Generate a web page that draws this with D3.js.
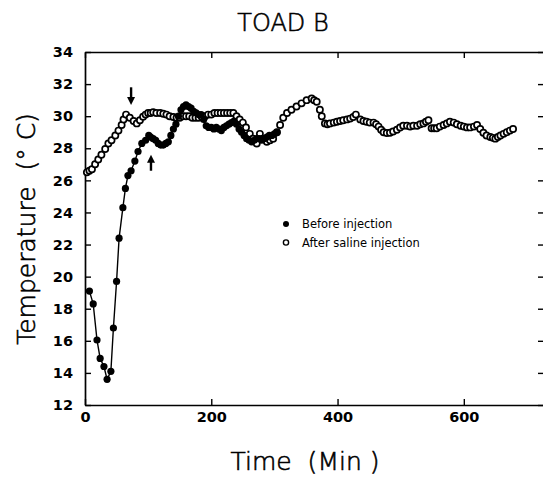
<!DOCTYPE html>
<html>
<head>
<meta charset="utf-8">
<script src="https://cdn.jsdelivr.net/npm/d3@7"></script>
<style>
  body { margin: 0; background: #fff; }
  svg text { fill: #000; }
  .axis path, .axis line { stroke: #000; }
  .axis text { font-family: "DejaVu Sans", sans-serif; font-size: 14.5px; font-weight: bold; fill: #000; }
  .label { font-family: "DejaVu Sans", sans-serif; font-weight: 200; stroke: #000; stroke-width: 0.6px; white-space: pre; }
</style>
</head>
<body>
<svg id="chart" width="543" height="478"></svg>
<script>
/* data: Time (min) / Temperature (C) */
var beforeTime = [7,13,19,24,30,35,41,45,50,54,60,64,68,73,79,84,90,96,101,
  104,108,112,116,120,124,128,132,136,140,144,148,152,156,160,164,168,172,176,180,184,188,
  192,196,200,204,208,212,216,220,224,228,232,236,240,244,248,252,256,260,264,268,272,276,
  280,284,288,292,296,300,304];
var beforeTemp = [19.1,18.3,16.05,14.9,14.4,13.6,14.1,16.8,19.7,22.4,24.3,25.5,26.3,26.6,27.2,27.8,28.3,28.5,28.8,
  28.7,28.6,28.5,28.3,28.2,28.2,28.3,28.4,28.8,29.2,29.5,30.0,30.4,30.6,30.7,30.6,30.5,30.3,30.2,30.1,30.1,29.8,
  29.4,29.3,29.3,29.2,29.3,29.2,29.1,29.3,29.4,29.5,29.6,29.7,29.5,29.2,29.0,28.8,28.6,28.5,28.4,28.5,28.6,28.6,
  28.5,28.6,28.7,28.8,28.8,28.9,29.0];

var afterTime = [3,7,11,16,21,26,32,37,42,48,53,58,61,65,71,77,82,87,92,96,100,104,108,113,119,124,129,134,
  140,145,150,155,160,165,170,175,180,185,190,195,200,205,210,215,220,225,230,235,240,245,250,255,261,266,
  272,277,282,288,293,298,304,309,314,320,327,335,343,351,359,363,367,372,375,380,384,388,394,399,404,409,
  415,420,425,429,436,441,446,451,457,461,465,469,473,478,483,488,494,499,504,510,515,520,526,531,536,540,
  544,549,553,557,562,568,573,578,584,589,595,600,605,610,616,621,626,631,636,642,646,650,654,658,663,668,
  673,678];
var afterTemp = [26.5,26.6,26.7,27.0,27.3,27.6,27.95,28.3,28.5,28.8,29.1,29.45,29.8,30.1,29.9,29.7,29.55,29.75,
  29.97,30.1,30.2,30.2,30.25,30.2,30.2,30.15,30.1,30.0,29.95,29.9,29.9,30.0,30.0,30.0,29.9,29.9,29.9,29.95,
  30.0,30.1,30.1,30.2,30.2,30.2,30.2,30.2,30.2,30.2,30.0,29.8,29.6,29.3,28.9,28.6,28.3,28.9,28.6,28.4,28.5,
  28.6,29.0,29.45,29.9,30.2,30.4,30.6,30.8,31.0,31.1,31.0,30.9,30.4,30.0,29.55,29.5,29.55,29.6,29.65,29.7,
  29.75,29.8,29.85,29.95,30.1,29.8,29.7,29.65,29.6,29.6,29.5,29.35,29.15,29.0,28.95,28.97,29.05,29.15,29.3,
  29.4,29.4,29.35,29.4,29.4,29.5,29.55,29.65,29.75,29.25,29.25,29.25,29.35,29.45,29.55,29.65,29.6,29.5,29.4,
  29.35,29.3,29.3,29.35,29.45,29.2,28.97,28.8,28.7,28.65,28.6,28.7,28.8,28.9,29.0,29.1,29.2];

var xTicks = [0, 200, 400, 600];
var yTicks = [12,14,16,18,20,22,24,26,28,30,32,34];
var seriesNames = ["Before injection", "After saline injection"];
var titleText = "TOAD B";
var xLabel = "Time  (Min )";
var yLabel = "Temperature  (\u00B0 C)";
// arrows: [time, temp tail, temp head]
var arrows = [[73, 31.8, 30.7], [104.5, 26.6, 27.6]];

var svg = d3.select("#chart");
var plotLeft = 85, plotRight = 544, plotTop = 52, plotBottom = 405;

var x = d3.scaleLinear().domain([0, 727]).range([plotLeft, plotRight]);
var y = d3.scaleLinear().domain([12, 34]).range([plotBottom, plotTop]);

var before = beforeTime.map(function(t, i) { return [t, beforeTemp[i]]; });
var after = afterTime.map(function(t, i) { return [t, afterTemp[i]]; });

/* axes, ticks pointing inward */
svg.append("g").attr("class", "axis")
  .attr("transform", "translate(0," + plotBottom + ")")
  .call(d3.axisBottom(x).tickValues(xTicks).tickSizeInner(-6).tickSizeOuter(0).tickPadding(7));
svg.append("g").attr("class", "axis")
  .attr("transform", "translate(" + plotLeft + ",0)")
  .call(d3.axisLeft(y).tickValues(yTicks).tickSizeInner(-6).tickSizeOuter(0).tickPadding(12));
svg.append("g").attr("class", "axis")
  .attr("transform", "translate(0," + plotTop + ")")
  .call(d3.axisTop(x).tickValues(xTicks).tickSizeInner(-6).tickSizeOuter(0).tickFormat(""));
svg.append("g").attr("class", "axis")
  .attr("transform", "translate(" + plotRight + ",0)")
  .call(d3.axisRight(y).tickValues(yTicks).tickSizeInner(-6).tickSizeOuter(0).tickFormat(""));
svg.selectAll(".axis path").attr("stroke-width", 1.7);
svg.selectAll(".axis line").attr("stroke-width", 1.4);

/* before: filled dots joined by a line */
var line = d3.line().x(function(d) { return x(d[0]); }).y(function(d) { return y(d[1]); });
svg.append("path").datum(before)
  .attr("d", line).attr("fill", "none").attr("stroke", "#000").attr("stroke-width", 1.4);

/* after: open circles */
svg.append("g").selectAll("circle").data(after).enter().append("circle")
  .attr("cx", function(d) { return x(d[0]); })
  .attr("cy", function(d) { return y(d[1]); })
  .attr("r", 3.1)
  .attr("fill", "#fff").attr("stroke", "#000").attr("stroke-width", 1.7);

svg.append("g").selectAll("circle").data(before).enter().append("circle")
  .attr("cx", function(d) { return x(d[0]); })
  .attr("cy", function(d) { return y(d[1]); })
  .attr("r", 3.6)
  .attr("fill", "#000");

/* arrows */
arrows.forEach(function(a) {
  var ax = x(a[0]), y0 = y(a[1]), y1 = y(a[2]);
  var dir = y1 > y0 ? 1 : -1;
  svg.append("line")
    .attr("x1", ax).attr("x2", ax).attr("y1", y0).attr("y2", y1 - dir * 6)
    .attr("stroke", "#000").attr("stroke-width", 2.4);
  svg.append("path")
    .attr("d", "M" + (ax - 4) + "," + (y1 - dir * 8) + "L" + (ax + 4) + "," + (y1 - dir * 8) + "L" + ax + "," + y1 + "Z")
    .attr("fill", "#000");
});

/* legend */
var legend = svg.append("g").attr("font-family", "DejaVu Sans, sans-serif").attr("font-size", "11.5px");
legend.append("circle").attr("cx", 286).attr("cy", 224).attr("r", 3).attr("fill", "#000");
legend.append("circle").attr("cx", 286).attr("cy", 242.5).attr("r", 2.6)
  .attr("fill", "#fff").attr("stroke", "#000").attr("stroke-width", 1.4);
legend.append("text").attr("x", 302).attr("y", 228.3).text(seriesNames[0]);
legend.append("text").attr("x", 302).attr("y", 246.8).text(seriesNames[1]);

/* title and axis labels */
svg.append("text").attr("class", "label").attr("x", 283).attr("y", 30.5).attr("text-anchor", "middle")
  .attr("font-size", "24px")
  .text(titleText);
svg.append("text").attr("class", "label").attr("x", 305).attr("y", 470).attr("text-anchor", "middle")
  .attr("font-size", "25px")
  .text(xLabel);
svg.append("text").attr("class", "label").attr("transform", "translate(35,229) rotate(-90)").attr("text-anchor", "middle")
  .attr("font-size", "25px")
  .text(yLabel);
</script>
</body>
</html>
